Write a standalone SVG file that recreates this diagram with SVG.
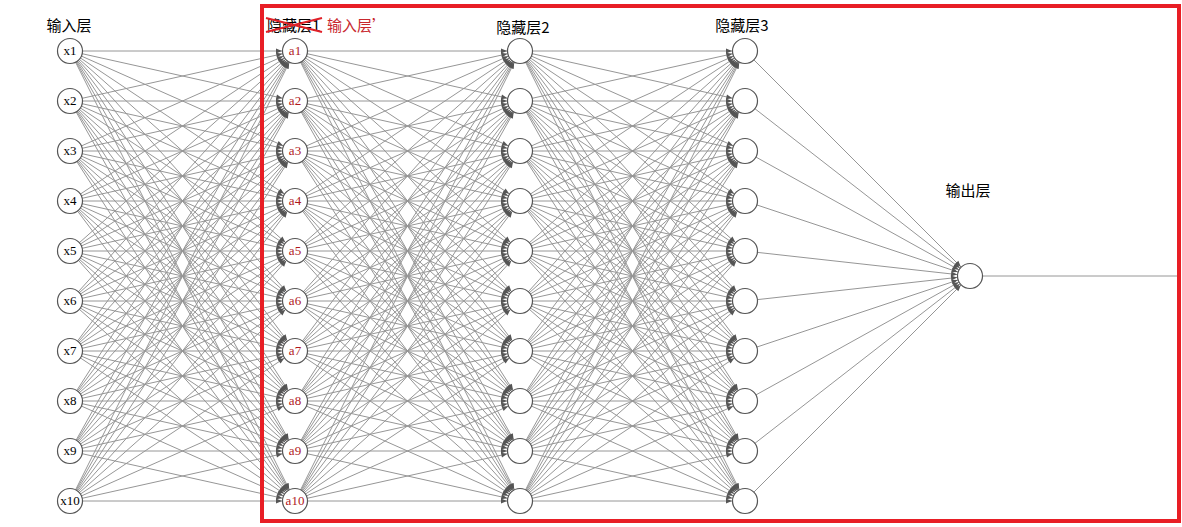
<svg xmlns="http://www.w3.org/2000/svg" width="1182" height="527" viewBox="0 0 1182 527">
<style>
#edges line{stroke:#969696;stroke-width:1;marker-end:url(#arr)}
.n circle{fill:#fff;stroke:#555;stroke-width:1.2}
.n text{font-family:"Liberation Serif",serif;font-size:13px;text-anchor:middle;fill:#000}
.r text{fill:#b0181c}
.h{font-family:"Noto Sans CJK SC","Noto Sans",sans-serif;font-size:15px;fill:#000}
</style>
<defs>
<marker id="arr" markerUnits="userSpaceOnUse" markerWidth="6" markerHeight="5" viewBox="0 0 6 5" refX="19" refY="2.5" orient="auto" overflow="visible">
<path d="M0,0 L6,2.5 L0,5 z" fill="#555"/>
</marker>
</defs>
<rect width="1182" height="527" fill="#fff"/>
<g id="edges">
<line x1="70" y1="51" x2="295" y2="51"/><line x1="70" y1="51" x2="295" y2="101"/><line x1="70" y1="51" x2="295" y2="151"/><line x1="70" y1="51" x2="295" y2="201"/><line x1="70" y1="51" x2="295" y2="251"/><line x1="70" y1="51" x2="295" y2="301"/><line x1="70" y1="51" x2="295" y2="351"/><line x1="70" y1="51" x2="295" y2="401"/><line x1="70" y1="51" x2="295" y2="451"/><line x1="70" y1="51" x2="295" y2="501"/>
<line x1="70" y1="101" x2="295" y2="51"/><line x1="70" y1="101" x2="295" y2="101"/><line x1="70" y1="101" x2="295" y2="151"/><line x1="70" y1="101" x2="295" y2="201"/><line x1="70" y1="101" x2="295" y2="251"/><line x1="70" y1="101" x2="295" y2="301"/><line x1="70" y1="101" x2="295" y2="351"/><line x1="70" y1="101" x2="295" y2="401"/><line x1="70" y1="101" x2="295" y2="451"/><line x1="70" y1="101" x2="295" y2="501"/>
<line x1="70" y1="151" x2="295" y2="51"/><line x1="70" y1="151" x2="295" y2="101"/><line x1="70" y1="151" x2="295" y2="151"/><line x1="70" y1="151" x2="295" y2="201"/><line x1="70" y1="151" x2="295" y2="251"/><line x1="70" y1="151" x2="295" y2="301"/><line x1="70" y1="151" x2="295" y2="351"/><line x1="70" y1="151" x2="295" y2="401"/><line x1="70" y1="151" x2="295" y2="451"/><line x1="70" y1="151" x2="295" y2="501"/>
<line x1="70" y1="201" x2="295" y2="51"/><line x1="70" y1="201" x2="295" y2="101"/><line x1="70" y1="201" x2="295" y2="151"/><line x1="70" y1="201" x2="295" y2="201"/><line x1="70" y1="201" x2="295" y2="251"/><line x1="70" y1="201" x2="295" y2="301"/><line x1="70" y1="201" x2="295" y2="351"/><line x1="70" y1="201" x2="295" y2="401"/><line x1="70" y1="201" x2="295" y2="451"/><line x1="70" y1="201" x2="295" y2="501"/>
<line x1="70" y1="251" x2="295" y2="51"/><line x1="70" y1="251" x2="295" y2="101"/><line x1="70" y1="251" x2="295" y2="151"/><line x1="70" y1="251" x2="295" y2="201"/><line x1="70" y1="251" x2="295" y2="251"/><line x1="70" y1="251" x2="295" y2="301"/><line x1="70" y1="251" x2="295" y2="351"/><line x1="70" y1="251" x2="295" y2="401"/><line x1="70" y1="251" x2="295" y2="451"/><line x1="70" y1="251" x2="295" y2="501"/>
<line x1="70" y1="301" x2="295" y2="51"/><line x1="70" y1="301" x2="295" y2="101"/><line x1="70" y1="301" x2="295" y2="151"/><line x1="70" y1="301" x2="295" y2="201"/><line x1="70" y1="301" x2="295" y2="251"/><line x1="70" y1="301" x2="295" y2="301"/><line x1="70" y1="301" x2="295" y2="351"/><line x1="70" y1="301" x2="295" y2="401"/><line x1="70" y1="301" x2="295" y2="451"/><line x1="70" y1="301" x2="295" y2="501"/>
<line x1="70" y1="351" x2="295" y2="51"/><line x1="70" y1="351" x2="295" y2="101"/><line x1="70" y1="351" x2="295" y2="151"/><line x1="70" y1="351" x2="295" y2="201"/><line x1="70" y1="351" x2="295" y2="251"/><line x1="70" y1="351" x2="295" y2="301"/><line x1="70" y1="351" x2="295" y2="351"/><line x1="70" y1="351" x2="295" y2="401"/><line x1="70" y1="351" x2="295" y2="451"/><line x1="70" y1="351" x2="295" y2="501"/>
<line x1="70" y1="401" x2="295" y2="51"/><line x1="70" y1="401" x2="295" y2="101"/><line x1="70" y1="401" x2="295" y2="151"/><line x1="70" y1="401" x2="295" y2="201"/><line x1="70" y1="401" x2="295" y2="251"/><line x1="70" y1="401" x2="295" y2="301"/><line x1="70" y1="401" x2="295" y2="351"/><line x1="70" y1="401" x2="295" y2="401"/><line x1="70" y1="401" x2="295" y2="451"/><line x1="70" y1="401" x2="295" y2="501"/>
<line x1="70" y1="451" x2="295" y2="51"/><line x1="70" y1="451" x2="295" y2="101"/><line x1="70" y1="451" x2="295" y2="151"/><line x1="70" y1="451" x2="295" y2="201"/><line x1="70" y1="451" x2="295" y2="251"/><line x1="70" y1="451" x2="295" y2="301"/><line x1="70" y1="451" x2="295" y2="351"/><line x1="70" y1="451" x2="295" y2="401"/><line x1="70" y1="451" x2="295" y2="451"/><line x1="70" y1="451" x2="295" y2="501"/>
<line x1="70" y1="501" x2="295" y2="51"/><line x1="70" y1="501" x2="295" y2="101"/><line x1="70" y1="501" x2="295" y2="151"/><line x1="70" y1="501" x2="295" y2="201"/><line x1="70" y1="501" x2="295" y2="251"/><line x1="70" y1="501" x2="295" y2="301"/><line x1="70" y1="501" x2="295" y2="351"/><line x1="70" y1="501" x2="295" y2="401"/><line x1="70" y1="501" x2="295" y2="451"/><line x1="70" y1="501" x2="295" y2="501"/>
<line x1="295" y1="51" x2="520" y2="51"/><line x1="295" y1="51" x2="520" y2="101"/><line x1="295" y1="51" x2="520" y2="151"/><line x1="295" y1="51" x2="520" y2="201"/><line x1="295" y1="51" x2="520" y2="251"/><line x1="295" y1="51" x2="520" y2="301"/><line x1="295" y1="51" x2="520" y2="351"/><line x1="295" y1="51" x2="520" y2="401"/><line x1="295" y1="51" x2="520" y2="451"/><line x1="295" y1="51" x2="520" y2="501"/>
<line x1="295" y1="101" x2="520" y2="51"/><line x1="295" y1="101" x2="520" y2="101"/><line x1="295" y1="101" x2="520" y2="151"/><line x1="295" y1="101" x2="520" y2="201"/><line x1="295" y1="101" x2="520" y2="251"/><line x1="295" y1="101" x2="520" y2="301"/><line x1="295" y1="101" x2="520" y2="351"/><line x1="295" y1="101" x2="520" y2="401"/><line x1="295" y1="101" x2="520" y2="451"/><line x1="295" y1="101" x2="520" y2="501"/>
<line x1="295" y1="151" x2="520" y2="51"/><line x1="295" y1="151" x2="520" y2="101"/><line x1="295" y1="151" x2="520" y2="151"/><line x1="295" y1="151" x2="520" y2="201"/><line x1="295" y1="151" x2="520" y2="251"/><line x1="295" y1="151" x2="520" y2="301"/><line x1="295" y1="151" x2="520" y2="351"/><line x1="295" y1="151" x2="520" y2="401"/><line x1="295" y1="151" x2="520" y2="451"/><line x1="295" y1="151" x2="520" y2="501"/>
<line x1="295" y1="201" x2="520" y2="51"/><line x1="295" y1="201" x2="520" y2="101"/><line x1="295" y1="201" x2="520" y2="151"/><line x1="295" y1="201" x2="520" y2="201"/><line x1="295" y1="201" x2="520" y2="251"/><line x1="295" y1="201" x2="520" y2="301"/><line x1="295" y1="201" x2="520" y2="351"/><line x1="295" y1="201" x2="520" y2="401"/><line x1="295" y1="201" x2="520" y2="451"/><line x1="295" y1="201" x2="520" y2="501"/>
<line x1="295" y1="251" x2="520" y2="51"/><line x1="295" y1="251" x2="520" y2="101"/><line x1="295" y1="251" x2="520" y2="151"/><line x1="295" y1="251" x2="520" y2="201"/><line x1="295" y1="251" x2="520" y2="251"/><line x1="295" y1="251" x2="520" y2="301"/><line x1="295" y1="251" x2="520" y2="351"/><line x1="295" y1="251" x2="520" y2="401"/><line x1="295" y1="251" x2="520" y2="451"/><line x1="295" y1="251" x2="520" y2="501"/>
<line x1="295" y1="301" x2="520" y2="51"/><line x1="295" y1="301" x2="520" y2="101"/><line x1="295" y1="301" x2="520" y2="151"/><line x1="295" y1="301" x2="520" y2="201"/><line x1="295" y1="301" x2="520" y2="251"/><line x1="295" y1="301" x2="520" y2="301"/><line x1="295" y1="301" x2="520" y2="351"/><line x1="295" y1="301" x2="520" y2="401"/><line x1="295" y1="301" x2="520" y2="451"/><line x1="295" y1="301" x2="520" y2="501"/>
<line x1="295" y1="351" x2="520" y2="51"/><line x1="295" y1="351" x2="520" y2="101"/><line x1="295" y1="351" x2="520" y2="151"/><line x1="295" y1="351" x2="520" y2="201"/><line x1="295" y1="351" x2="520" y2="251"/><line x1="295" y1="351" x2="520" y2="301"/><line x1="295" y1="351" x2="520" y2="351"/><line x1="295" y1="351" x2="520" y2="401"/><line x1="295" y1="351" x2="520" y2="451"/><line x1="295" y1="351" x2="520" y2="501"/>
<line x1="295" y1="401" x2="520" y2="51"/><line x1="295" y1="401" x2="520" y2="101"/><line x1="295" y1="401" x2="520" y2="151"/><line x1="295" y1="401" x2="520" y2="201"/><line x1="295" y1="401" x2="520" y2="251"/><line x1="295" y1="401" x2="520" y2="301"/><line x1="295" y1="401" x2="520" y2="351"/><line x1="295" y1="401" x2="520" y2="401"/><line x1="295" y1="401" x2="520" y2="451"/><line x1="295" y1="401" x2="520" y2="501"/>
<line x1="295" y1="451" x2="520" y2="51"/><line x1="295" y1="451" x2="520" y2="101"/><line x1="295" y1="451" x2="520" y2="151"/><line x1="295" y1="451" x2="520" y2="201"/><line x1="295" y1="451" x2="520" y2="251"/><line x1="295" y1="451" x2="520" y2="301"/><line x1="295" y1="451" x2="520" y2="351"/><line x1="295" y1="451" x2="520" y2="401"/><line x1="295" y1="451" x2="520" y2="451"/><line x1="295" y1="451" x2="520" y2="501"/>
<line x1="295" y1="501" x2="520" y2="51"/><line x1="295" y1="501" x2="520" y2="101"/><line x1="295" y1="501" x2="520" y2="151"/><line x1="295" y1="501" x2="520" y2="201"/><line x1="295" y1="501" x2="520" y2="251"/><line x1="295" y1="501" x2="520" y2="301"/><line x1="295" y1="501" x2="520" y2="351"/><line x1="295" y1="501" x2="520" y2="401"/><line x1="295" y1="501" x2="520" y2="451"/><line x1="295" y1="501" x2="520" y2="501"/>
<line x1="520" y1="51" x2="745" y2="51"/><line x1="520" y1="51" x2="745" y2="101"/><line x1="520" y1="51" x2="745" y2="151"/><line x1="520" y1="51" x2="745" y2="201"/><line x1="520" y1="51" x2="745" y2="251"/><line x1="520" y1="51" x2="745" y2="301"/><line x1="520" y1="51" x2="745" y2="351"/><line x1="520" y1="51" x2="745" y2="401"/><line x1="520" y1="51" x2="745" y2="451"/><line x1="520" y1="51" x2="745" y2="501"/>
<line x1="520" y1="101" x2="745" y2="51"/><line x1="520" y1="101" x2="745" y2="101"/><line x1="520" y1="101" x2="745" y2="151"/><line x1="520" y1="101" x2="745" y2="201"/><line x1="520" y1="101" x2="745" y2="251"/><line x1="520" y1="101" x2="745" y2="301"/><line x1="520" y1="101" x2="745" y2="351"/><line x1="520" y1="101" x2="745" y2="401"/><line x1="520" y1="101" x2="745" y2="451"/><line x1="520" y1="101" x2="745" y2="501"/>
<line x1="520" y1="151" x2="745" y2="51"/><line x1="520" y1="151" x2="745" y2="101"/><line x1="520" y1="151" x2="745" y2="151"/><line x1="520" y1="151" x2="745" y2="201"/><line x1="520" y1="151" x2="745" y2="251"/><line x1="520" y1="151" x2="745" y2="301"/><line x1="520" y1="151" x2="745" y2="351"/><line x1="520" y1="151" x2="745" y2="401"/><line x1="520" y1="151" x2="745" y2="451"/><line x1="520" y1="151" x2="745" y2="501"/>
<line x1="520" y1="201" x2="745" y2="51"/><line x1="520" y1="201" x2="745" y2="101"/><line x1="520" y1="201" x2="745" y2="151"/><line x1="520" y1="201" x2="745" y2="201"/><line x1="520" y1="201" x2="745" y2="251"/><line x1="520" y1="201" x2="745" y2="301"/><line x1="520" y1="201" x2="745" y2="351"/><line x1="520" y1="201" x2="745" y2="401"/><line x1="520" y1="201" x2="745" y2="451"/><line x1="520" y1="201" x2="745" y2="501"/>
<line x1="520" y1="251" x2="745" y2="51"/><line x1="520" y1="251" x2="745" y2="101"/><line x1="520" y1="251" x2="745" y2="151"/><line x1="520" y1="251" x2="745" y2="201"/><line x1="520" y1="251" x2="745" y2="251"/><line x1="520" y1="251" x2="745" y2="301"/><line x1="520" y1="251" x2="745" y2="351"/><line x1="520" y1="251" x2="745" y2="401"/><line x1="520" y1="251" x2="745" y2="451"/><line x1="520" y1="251" x2="745" y2="501"/>
<line x1="520" y1="301" x2="745" y2="51"/><line x1="520" y1="301" x2="745" y2="101"/><line x1="520" y1="301" x2="745" y2="151"/><line x1="520" y1="301" x2="745" y2="201"/><line x1="520" y1="301" x2="745" y2="251"/><line x1="520" y1="301" x2="745" y2="301"/><line x1="520" y1="301" x2="745" y2="351"/><line x1="520" y1="301" x2="745" y2="401"/><line x1="520" y1="301" x2="745" y2="451"/><line x1="520" y1="301" x2="745" y2="501"/>
<line x1="520" y1="351" x2="745" y2="51"/><line x1="520" y1="351" x2="745" y2="101"/><line x1="520" y1="351" x2="745" y2="151"/><line x1="520" y1="351" x2="745" y2="201"/><line x1="520" y1="351" x2="745" y2="251"/><line x1="520" y1="351" x2="745" y2="301"/><line x1="520" y1="351" x2="745" y2="351"/><line x1="520" y1="351" x2="745" y2="401"/><line x1="520" y1="351" x2="745" y2="451"/><line x1="520" y1="351" x2="745" y2="501"/>
<line x1="520" y1="401" x2="745" y2="51"/><line x1="520" y1="401" x2="745" y2="101"/><line x1="520" y1="401" x2="745" y2="151"/><line x1="520" y1="401" x2="745" y2="201"/><line x1="520" y1="401" x2="745" y2="251"/><line x1="520" y1="401" x2="745" y2="301"/><line x1="520" y1="401" x2="745" y2="351"/><line x1="520" y1="401" x2="745" y2="401"/><line x1="520" y1="401" x2="745" y2="451"/><line x1="520" y1="401" x2="745" y2="501"/>
<line x1="520" y1="451" x2="745" y2="51"/><line x1="520" y1="451" x2="745" y2="101"/><line x1="520" y1="451" x2="745" y2="151"/><line x1="520" y1="451" x2="745" y2="201"/><line x1="520" y1="451" x2="745" y2="251"/><line x1="520" y1="451" x2="745" y2="301"/><line x1="520" y1="451" x2="745" y2="351"/><line x1="520" y1="451" x2="745" y2="401"/><line x1="520" y1="451" x2="745" y2="451"/><line x1="520" y1="451" x2="745" y2="501"/>
<line x1="520" y1="501" x2="745" y2="51"/><line x1="520" y1="501" x2="745" y2="101"/><line x1="520" y1="501" x2="745" y2="151"/><line x1="520" y1="501" x2="745" y2="201"/><line x1="520" y1="501" x2="745" y2="251"/><line x1="520" y1="501" x2="745" y2="301"/><line x1="520" y1="501" x2="745" y2="351"/><line x1="520" y1="501" x2="745" y2="401"/><line x1="520" y1="501" x2="745" y2="451"/><line x1="520" y1="501" x2="745" y2="501"/>
<line x1="745" y1="51" x2="970" y2="276"/><line x1="745" y1="101" x2="970" y2="276"/><line x1="745" y1="151" x2="970" y2="276"/><line x1="745" y1="201" x2="970" y2="276"/><line x1="745" y1="251" x2="970" y2="276"/><line x1="745" y1="301" x2="970" y2="276"/><line x1="745" y1="351" x2="970" y2="276"/><line x1="745" y1="401" x2="970" y2="276"/><line x1="745" y1="451" x2="970" y2="276"/><line x1="745" y1="501" x2="970" y2="276"/>
<line x1="982" y1="276" x2="1178" y2="276" style="marker-end:none"/>
</g>
<rect id="frame" x="262" y="6" width="917" height="515" fill="none" stroke="#e81e25" stroke-width="4"/>
<g id="layer-input" class="n">
<g id="x1"><circle cx="70" cy="51" r="12.5"/><text x="70" y="55">x1</text></g>
<g id="x2"><circle cx="70" cy="101" r="12.5"/><text x="70" y="105">x2</text></g>
<g id="x3"><circle cx="70" cy="151" r="12.5"/><text x="70" y="155">x3</text></g>
<g id="x4"><circle cx="70" cy="201" r="12.5"/><text x="70" y="205">x4</text></g>
<g id="x5"><circle cx="70" cy="251" r="12.5"/><text x="70" y="255">x5</text></g>
<g id="x6"><circle cx="70" cy="301" r="12.5"/><text x="70" y="305">x6</text></g>
<g id="x7"><circle cx="70" cy="351" r="12.5"/><text x="70" y="355">x7</text></g>
<g id="x8"><circle cx="70" cy="401" r="12.5"/><text x="70" y="405">x8</text></g>
<g id="x9"><circle cx="70" cy="451" r="12.5"/><text x="70" y="455">x9</text></g>
<g id="x10"><circle cx="70" cy="501" r="12.5"/><text x="70" y="505">x10</text></g>
</g>
<g id="layer-hidden1" class="n r">
<g id="a1"><circle cx="295" cy="51" r="12.5"/><text x="295" y="55">a1</text></g>
<g id="a2"><circle cx="295" cy="101" r="12.5"/><text x="295" y="105">a2</text></g>
<g id="a3"><circle cx="295" cy="151" r="12.5"/><text x="295" y="155">a3</text></g>
<g id="a4"><circle cx="295" cy="201" r="12.5"/><text x="295" y="205">a4</text></g>
<g id="a5"><circle cx="295" cy="251" r="12.5"/><text x="295" y="255">a5</text></g>
<g id="a6"><circle cx="295" cy="301" r="12.5"/><text x="295" y="305">a6</text></g>
<g id="a7"><circle cx="295" cy="351" r="12.5"/><text x="295" y="355">a7</text></g>
<g id="a8"><circle cx="295" cy="401" r="12.5"/><text x="295" y="405">a8</text></g>
<g id="a9"><circle cx="295" cy="451" r="12.5"/><text x="295" y="455">a9</text></g>
<g id="a10"><circle cx="295" cy="501" r="12.5"/><text x="295" y="505">a10</text></g>
</g>
<g id="layer-hidden2" class="n">
<g id="h2-1"><circle cx="520" cy="51" r="12.5"/></g>
<g id="h2-2"><circle cx="520" cy="101" r="12.5"/></g>
<g id="h2-3"><circle cx="520" cy="151" r="12.5"/></g>
<g id="h2-4"><circle cx="520" cy="201" r="12.5"/></g>
<g id="h2-5"><circle cx="520" cy="251" r="12.5"/></g>
<g id="h2-6"><circle cx="520" cy="301" r="12.5"/></g>
<g id="h2-7"><circle cx="520" cy="351" r="12.5"/></g>
<g id="h2-8"><circle cx="520" cy="401" r="12.5"/></g>
<g id="h2-9"><circle cx="520" cy="451" r="12.5"/></g>
<g id="h2-10"><circle cx="520" cy="501" r="12.5"/></g>
</g>
<g id="layer-hidden3" class="n">
<g id="h3-1"><circle cx="745" cy="51" r="12.5"/></g>
<g id="h3-2"><circle cx="745" cy="101" r="12.5"/></g>
<g id="h3-3"><circle cx="745" cy="151" r="12.5"/></g>
<g id="h3-4"><circle cx="745" cy="201" r="12.5"/></g>
<g id="h3-5"><circle cx="745" cy="251" r="12.5"/></g>
<g id="h3-6"><circle cx="745" cy="301" r="12.5"/></g>
<g id="h3-7"><circle cx="745" cy="351" r="12.5"/></g>
<g id="h3-8"><circle cx="745" cy="401" r="12.5"/></g>
<g id="h3-9"><circle cx="745" cy="451" r="12.5"/></g>
<g id="h3-10"><circle cx="745" cy="501" r="12.5"/></g>
</g>
<g id="layer-output" class="n">
<g id="out"><circle cx="970" cy="276" r="12.5"/></g>
</g>
<g id="labels">
<text class="h" x="69" y="31" text-anchor="middle">输入层</text>
<text class="h" x="267" y="31">隐藏层1</text>
<line x1="266" y1="18" x2="322" y2="32" stroke="#e02028" stroke-width="2"/>
<line x1="266" y1="32" x2="322" y2="18" stroke="#e02028" stroke-width="2"/>
<text class="h" x="327" y="31" style="fill:#c8282e">输入层’</text>
<text class="h" x="523" y="33" text-anchor="middle">隐藏层2</text>
<text class="h" x="742" y="31" text-anchor="middle">隐藏层3</text>
<text class="h" x="968" y="196" text-anchor="middle">输出层</text>
</g>
</svg>
